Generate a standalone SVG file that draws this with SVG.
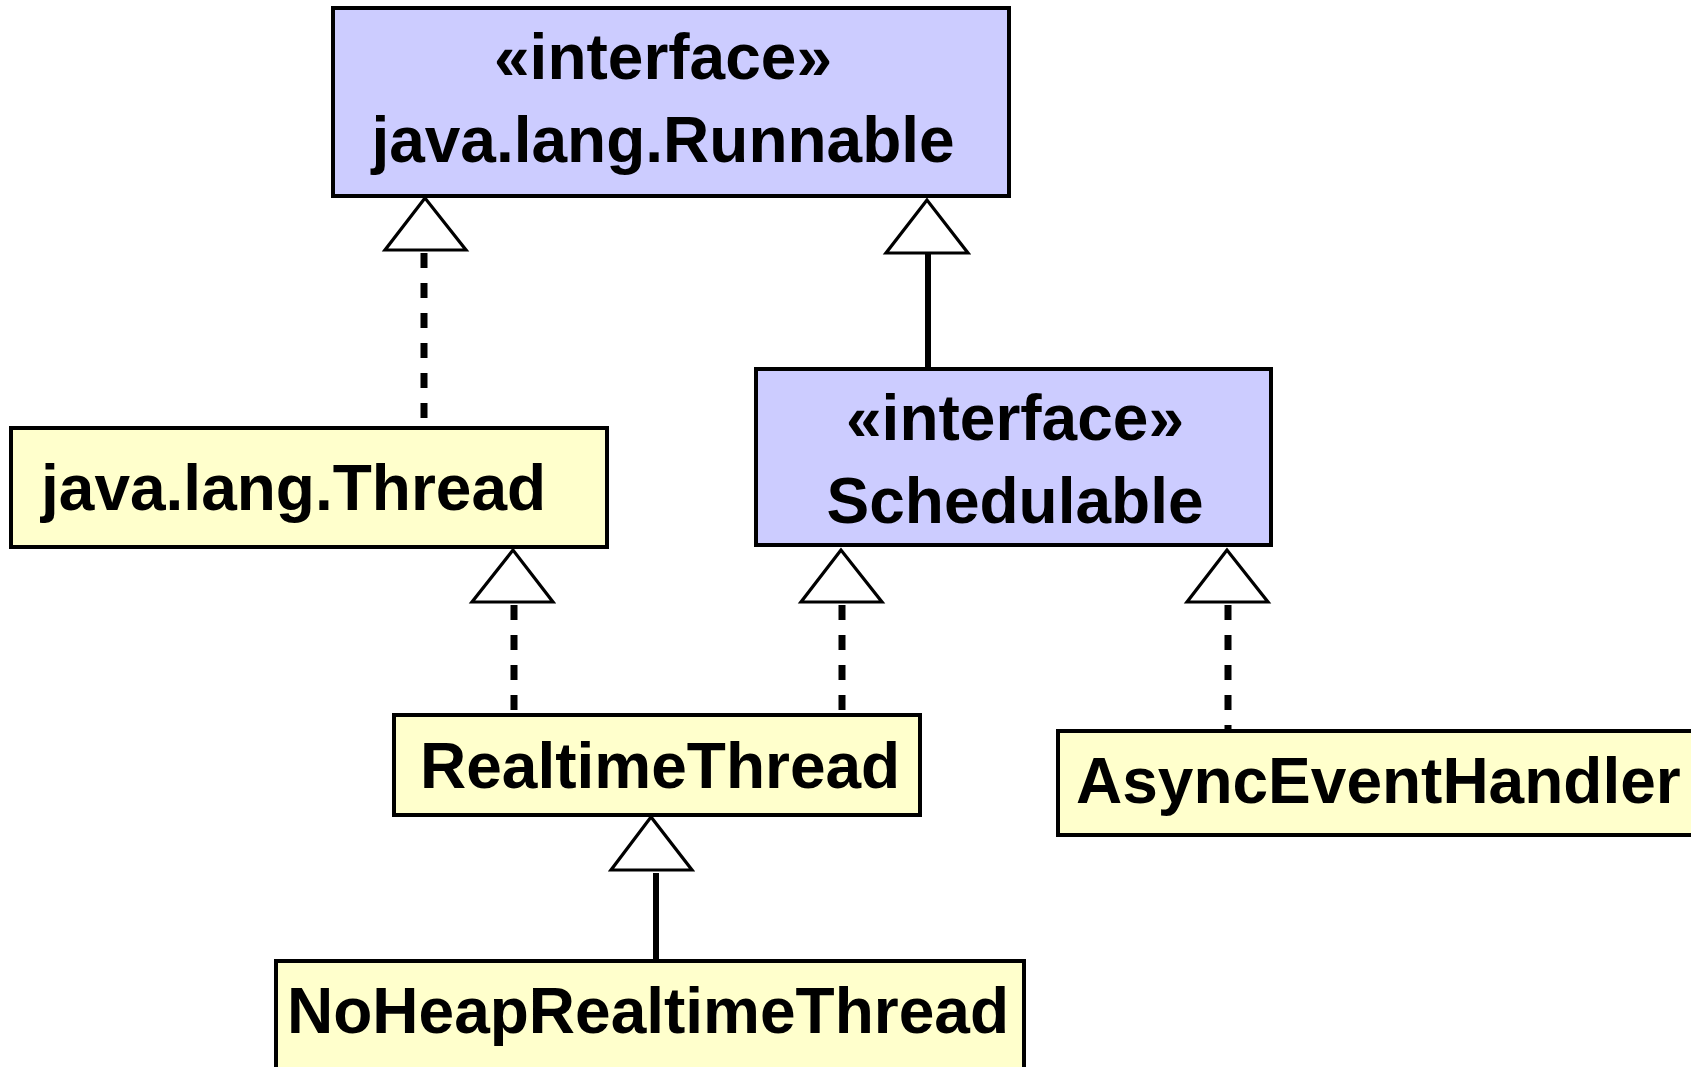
<svg xmlns="http://www.w3.org/2000/svg" width="1691" height="1067" viewBox="0 0 1691 1067">
<style>
  .iface { fill: #CCCCFF; stroke: #000; stroke-width: 4; }
  .cls { fill: #FFFFCC; stroke: #000; stroke-width: 4; }
  .t { font-family: "Liberation Sans", Arial, sans-serif; font-weight: bold; font-size: 64px; fill: #000; }
  .mid { text-anchor: middle; }
  .head { fill: #fff; stroke: #000; stroke-width: 3.2; }
  .dash { stroke: #000; stroke-width: 7; stroke-dasharray: 15 15; fill: none; }
  .solid { stroke: #000; stroke-width: 6; fill: none; }
</style>
<rect width="1691" height="1067" fill="#fff"/>

<g id="connectors">
  <line class="dash" x1="424" y1="253" x2="424" y2="428"/>
  <polygon class="head" points="425,198 385,250 466,250"/>
  <line class="solid" x1="928" y1="253" x2="928" y2="369"/>
  <polygon class="head" points="927,200 886,253 968,253"/>
  <line class="dash" x1="514" y1="605" x2="514" y2="715"/>
  <polygon class="head" points="513,550 472,602 553,602"/>
  <line class="dash" x1="842" y1="605" x2="842" y2="715"/>
  <polygon class="head" points="841,550 801,602 882,602"/>
  <line class="dash" x1="1228" y1="605" x2="1228" y2="731"/>
  <polygon class="head" points="1227,550 1187,602 1268,602"/>
  <line class="solid" x1="656" y1="873" x2="656" y2="961"/>
  <polygon class="head" points="651,817 611,870 692,870"/>
</g>

<g id="runnable">
  <rect class="iface" x="333" y="8" width="676" height="188"/>
  <text class="t mid" x="663" y="79">«interface»</text>
  <text class="t mid" x="663" y="162">java.lang.Runnable</text>
</g>

<g id="thread">
  <rect class="cls" x="11" y="428" width="596" height="119"/>
  <text class="t" x="41" y="510">java.lang.Thread</text>
</g>

<g id="schedulable">
  <rect class="iface" x="756" y="369" width="515" height="176"/>
  <text class="t mid" x="1015" y="440">«interface»</text>
  <text class="t mid" x="1015" y="523">Schedulable</text>
</g>

<g id="realtimethread">
  <rect class="cls" x="394" y="715" width="526" height="100"/>
  <text class="t" x="420" y="788">RealtimeThread</text>
</g>

<g id="asynceventhandler">
  <rect class="cls" x="1058" y="731" width="650" height="104"/>
  <text class="t" x="1076" y="803">AsyncEventHandler</text>
</g>

<g id="noheaprealtimethread">
  <rect class="cls" x="276" y="961" width="748" height="120"/>
  <text class="t" x="287" y="1033">NoHeapRealtimeThread</text>
</g>
</svg>
